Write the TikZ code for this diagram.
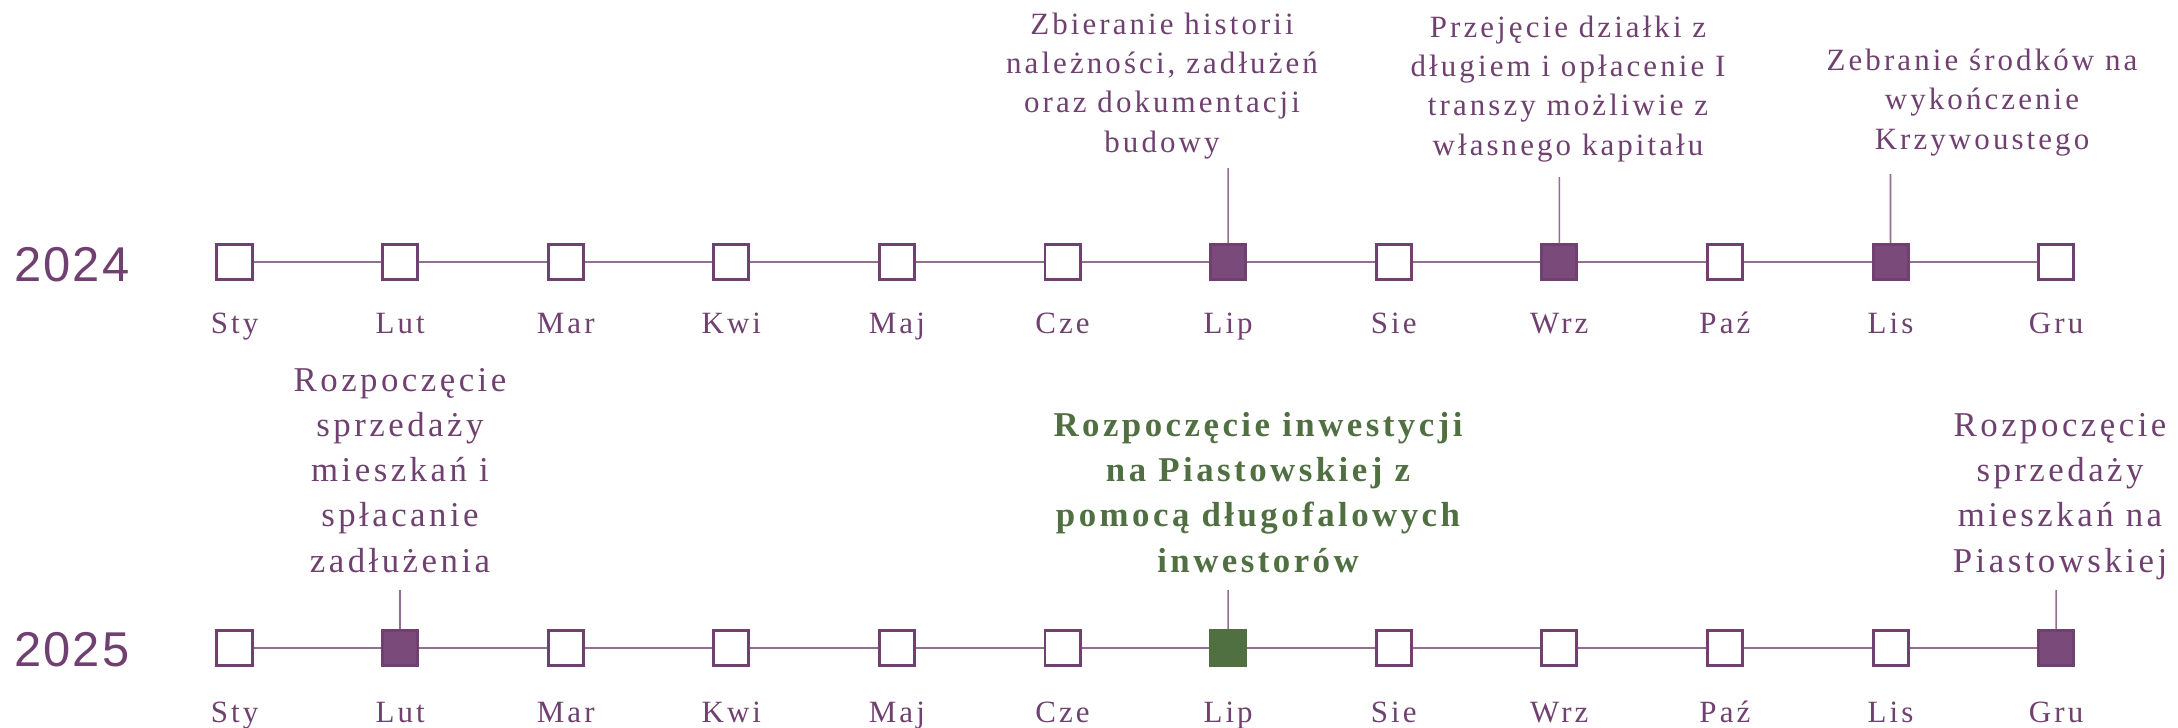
\documentclass[tikz,border=0pt]{standalone}
\usepackage{fontspec}
\setmainfont{Liberation Serif}[LetterSpace=10]
\newfontfamily\yearfont{Liberation Sans}[LetterSpace=4]
\definecolor{purp}{RGB}{112,65,112}
\definecolor{purpfill}{RGB}{122,74,122}
\definecolor{purpline}{RGB}{146,110,146}
\definecolor{grn}{RGB}{80,112,66}

\begin{document}
\begin{tikzpicture}[x=0.01cm, y=-0.01cm,
    box/.style={draw=purp, line width=0.85pt, fill=white, minimum size=0.35cm, inner sep=0},
    done/.style={box, fill=purpfill},
    key/.style={box, draw=grn, fill=grn},
    month/.style={anchor=base, text=purp, inner sep=0, font=\fontsize{8.8}{10}\selectfont},
    year/.style={anchor=base west, text=purp, inner sep=0, font=\yearfont\fontsize{13.9}{16}\selectfont},
    note/.style={anchor=base, align=center, text=purp, inner sep=0, font=\fontsize{8.8}{11.1}\selectfont},
    bignote/.style={note, font=\fontsize{9.9}{12.8}\selectfont},
    keynote/.style={note, text=grn, font=\bfseries\fontsize{9.9}{12.8}\selectfont},
    tie/.style={draw=purpline, line width=0.45pt}]
  \useasboundingbox (0,0) rectangle (2178,727);
  \node [year] (y24) at (14,281) {2024};
  \node [year] (y25) at (14,666) {2025};
  \foreach \mon/\up/\dn [count=\i] in {Sty/box/box, Lut/box/done, Mar/box/box, Kwi/box/box, Maj/box/box, Cze/box/box, Lip/done/key, Sie/box/box, Wrz/done/box, Paź/box/box, Lis/done/box, Gru/box/done} {
    \pgfmathsetmacro\xx{234.5+165.6*(\i-1)}
    \node [\up] (a\i) at (\xx,262) {};
    \node [\dn] (b\i) at (\xx,648) {};
    \node [month] (ma\i) at (\xx,333) {\mon};
    \node [month] (mb\i) at (\xx,722) {\mon};
  }
  \foreach \i [evaluate=\i as \j using int(\i+1)] in {1,...,11} {
    \draw [tie] (a\i) -- (a\j);
    \draw [tie] (b\i) -- (b\j);
  }
  \coordinate (c1) at (1228.1,168);
  \coordinate (c2) at (1559.3,177);
  \coordinate (c3) at (1890.5,174);
  \coordinate (c4) at (400.1,590);
  \coordinate (c5) at (1228.1,590);
  \coordinate (c6) at (2056.1,590);
  \draw [tie] (a7) -- (c1);
  \draw [tie] (a9) -- (c2);
  \draw [tie] (a11) -- (c3);
  \draw [tie] (b2) -- (c4);
  \draw [tie] (b7) -- (c5);
  \draw [tie] (b12) -- (c6);
  \node [note] (t1) at (1162,152) {Zbieranie historii\\należności, zadłużeń\\oraz dokumentacji\\budowy};
  \node [note] (t2) at (1568,155) {Przejęcie działki z\\długiem i opłacenie I\\transzy możliwie z\\własnego kapitału};
  \node [note] (t3) at (1982,149) {Zebranie środków na\\wykończenie\\Krzywoustego};
  \node [bignote] (t4) at (400,572) {Rozpoczęcie\\sprzedaży\\mieszkań i\\spłacanie\\zadłużenia};
  \node [keynote] (t5) at (1258,572) {Rozpoczęcie inwestycji\\na Piastowskiej z\\pomocą długofalowych\\inwestorów};
  \node [bignote] (t6) at (2060,572) {Rozpoczęcie\\sprzedaży\\mieszkań na\\Piastowskiej};
\end{tikzpicture}
\end{document}
